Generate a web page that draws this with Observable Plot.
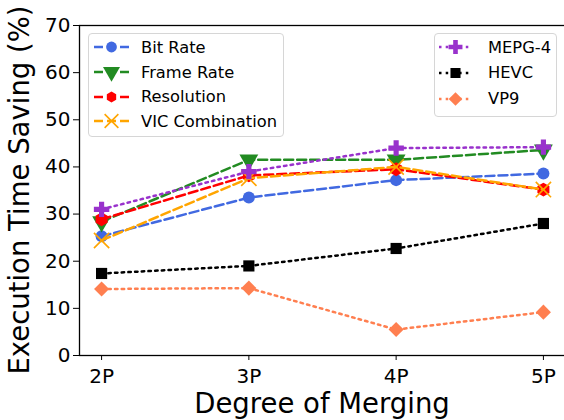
<!DOCTYPE html>
<html><head><meta charset="utf-8">
<script src="https://cdn.jsdelivr.net/npm/d3@7"></script>
<script src="https://cdn.jsdelivr.net/npm/@observablehq/plot@0.6"></script>
<style>
body{margin:0;background:#fff;font-family:"DejaVu Sans",sans-serif;}
#wrap{position:relative;width:564px;height:420px;overflow:hidden;}
.legend{position:absolute;border:1px solid #d6d6d6;border-radius:4px;background:rgba(255,255,255,0.85);box-sizing:border-box;}
.row{position:absolute;left:0;height:24px;display:flex;align-items:center;font-size:16.3px;color:#000;white-space:nowrap;}
.row svg{display:block;}
</style></head>
<body><div id="wrap"></div>
<script>
const categories = ["2P","3P","4P","5P"];
const bitRate = [25.3, 33.5, 37.2, 38.6];
const frameRate = [28.4, 41.5, 41.5, 43.6];
const resolution = [28.9, 38.2, 39.5, 35.2];
const vicCombination = [24.4, 37.6, 40.0, 35.2];
const mepg4 = [31.0, 39.0, 44.0, 44.2];
const hevc = [17.4, 19.0, 22.7, 28.0];
const vp9 = [14.1, 14.3, 5.5, 9.2];
const yTicks = [0,10,20,30,40,50,60,70];

const series = [
  {name:"Bit Rate", values:bitRate, color:"#4169E1", dash:"9,4", symbol:"circle", r:6},
  {name:"Frame Rate", values:frameRate, color:"#228B22", dash:"9,4", symbol:"triangle", r:7, rotate:180},
  {name:"Resolution", values:resolution, color:"#FF0000", dash:"9,4", symbol:"hexagon", r:6},
  {name:"VIC Combination", values:vicCombination, color:"#FFA500", dash:"9,4", symbol:"times", r:7, hollow:true},
  {name:"MEPG-4", values:mepg4, color:"#9932CC", dash:"2.5,4.2", symbol:"cross", r:6.5},
  {name:"HEVC", values:hevc, color:"#000000", dash:"2.5,4.2", symbol:"square", r:6.3},
  {name:"VP9", values:vp9, color:"#FF7F50", dash:"2.5,4.2", symbol:"diamond2", r:6.8}
];

const marks = [];
for (const s of series) {
  const rows = categories.map((c,i)=>({i, v:s.values[i]}));
  marks.push(Plot.line(rows, {x:"i", y:"v", stroke:s.color, strokeWidth:2.5, strokeDasharray:s.dash}));
  marks.push(Plot.dot(rows, {x:"i", y:"v", symbol:s.symbol, r:s.r, rotate:s.rotate||0,
    fill: s.hollow ? "none" : s.color, stroke: s.hollow ? s.color : "none", strokeWidth: s.hollow ? 1.6 : 0}));
}
marks.push(Plot.frame({stroke:"#000", strokeWidth:1.3}));
marks.push(Plot.axisY({ticks:yTicks, tickSize:6, tickPadding:3, fontSize:20, label:null}));
marks.push(Plot.axisX({ticks:[0,1,2,3], tickFormat:i=>categories[i], tickSize:5, tickPadding:8, fontSize:20, label:null}));

const chart = Plot.plot({
  width:564, height:420,
  marginLeft:79, marginRight:-1, marginTop:25, marginBottom:65,
  style:{fontFamily:"DejaVu Sans", color:"#000", background:"#fff", overflow:"visible"},
  x:{type:"linear", domain:[-0.15,3.15]},
  y:{domain:[0,70]},
  marks
});
const svg = d3.select(chart);
svg.append("text").attr("x",322).attr("y",413).attr("text-anchor","middle")
  .attr("font-size","27.5px").attr("font-family","DejaVu Sans").attr("fill","#000").text("Degree of Merging");
svg.append("text").attr("transform","translate(29,190) rotate(-90)").attr("text-anchor","middle")
  .attr("font-size","27.5px").attr("font-family","DejaVu Sans").attr("fill","#000").text("Execution Time Saving (%)");

const wrap = document.getElementById("wrap");
wrap.appendChild(chart);

const symMap = {circle:d3.symbolCircle, triangle:d3.symbolTriangle, times:d3.symbolTimes, cross:d3.symbolCross, square:d3.symbolSquare, diamond2:d3.symbolDiamond2};
function hexPath(r){
  const pts=[]; for(let k=0;k<6;k++){const a=Math.PI/3*k+Math.PI/6; pts.push([r*Math.cos(a), r*Math.sin(a)]);}
  return "M"+pts.map(p=>p.join(",")).join("L")+"Z";
}
function makeLegend(list, box, rowTops, textLeft, sampleLeft, sampleW){
  const div = document.createElement("div");
  div.className="legend";
  Object.assign(div.style,{left:box[0]+"px", top:box[1]+"px", width:box[2]+"px", height:box[3]+"px"});
  list.forEach((s,k)=>{
    const row=document.createElement("div"); row.className="row"; row.style.top=rowTops[k]+"px";
    const ns="http://www.w3.org/2000/svg";
    const sv=document.createElementNS(ns,"svg"); sv.setAttribute("width",sampleW); sv.setAttribute("height",24);
    sv.style.marginLeft=sampleLeft+"px";
    const ln=document.createElementNS(ns,"line");
    ln.setAttribute("x1",0); ln.setAttribute("x2",sampleW); ln.setAttribute("y1",12); ln.setAttribute("y2",12);
    ln.setAttribute("stroke",s.color); ln.setAttribute("stroke-width",2.5); ln.setAttribute("stroke-dasharray",s.dash);
    sv.appendChild(ln);
    const p=document.createElementNS(ns,"path");
    const rr = s.r*0.9;
    const d = s.symbol==="hexagon" ? hexPath(rr) : d3.symbol(symMap[s.symbol], rr*rr*Math.PI)();
    p.setAttribute("d",d);
    p.setAttribute("transform",`translate(${sampleW/2},12) rotate(${s.rotate||0})`);
    p.setAttribute("fill", s.hollow?"none":s.color); p.setAttribute("stroke", s.hollow?s.color:"none"); p.setAttribute("stroke-width",1.6);
    sv.appendChild(p);
    row.appendChild(sv);
    const t=document.createElement("span"); t.textContent=s.name;
    t.style.marginLeft=(textLeft-sampleLeft-sampleW)+"px";
    row.appendChild(t);
    div.appendChild(row);
  });
  wrap.appendChild(div);
}
makeLegend(series.slice(0,4), [88,33,196,104], [1,26,50.5,75], 52, 5, 35);
makeLegend(series.slice(4), [434,33,123,84], [1,26.5,52.5], 53, 4, 33);
</script></body></html>
